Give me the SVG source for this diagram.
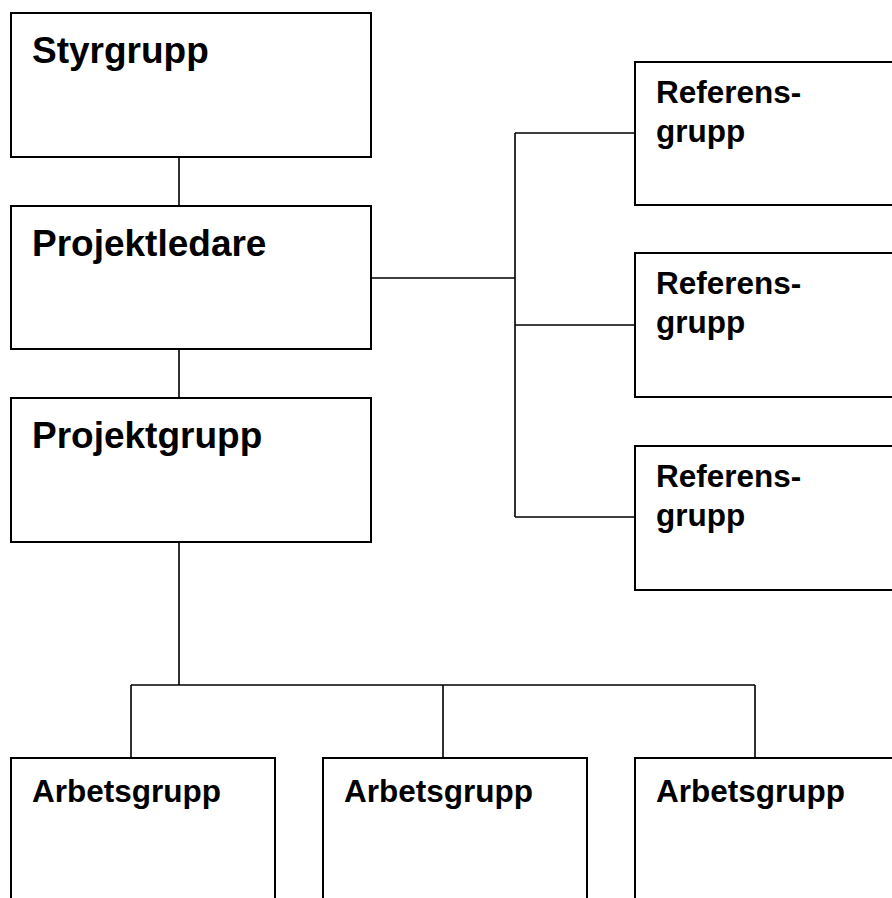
<svg xmlns="http://www.w3.org/2000/svg" width="892" height="898" viewBox="0 0 892 898">
<style>
.box{fill:#fff;stroke:#000;stroke-width:2}
.ln{fill:none;stroke:#000;stroke-width:1.6}
.t{font-family:"Liberation Sans",Arial,sans-serif;font-weight:bold;fill:#000}
.big{font-size:37px}
.sm{font-size:31.5px}
</style>
<rect width="892" height="898" fill="#fff"/>
<g id="connectors">
<path class="ln" d="M179 157V206M179 349V398M371 278H515M515 133V517M515 133H635M515 325H635M515 517H635M179 542V685M131 685H755M131 685V758M443 685V758M755 685V758"/>
</g>
<g id="styrgrupp"><rect class="box" x="11" y="13" width="360" height="144"/><text class="t big" x="32" y="63">Styrgrupp</text></g>
<g id="projektledare"><rect class="box" x="11" y="206" width="360" height="143"/><text class="t big" x="32" y="256">Projektledare</text></g>
<g id="projektgrupp"><rect class="box" x="11" y="398" width="360" height="144"/><text class="t big" x="32" y="448">Projektgrupp</text></g>
<g id="referensgrupp1"><rect class="box" x="635" y="62" width="300" height="143"/><text class="t sm" x="656" y="103">Referens-</text><text class="t sm" x="656" y="142">grupp</text></g>
<g id="referensgrupp2"><rect class="box" x="635" y="253" width="300" height="144"/><text class="t sm" x="656" y="294">Referens-</text><text class="t sm" x="656" y="333">grupp</text></g>
<g id="referensgrupp3"><rect class="box" x="635" y="446" width="300" height="144"/><text class="t sm" x="656" y="487">Referens-</text><text class="t sm" x="656" y="526">grupp</text></g>
<g id="arbetsgrupp1"><rect class="box" x="11" y="758" width="264" height="200"/><text class="t sm" x="32" y="802">Arbetsgrupp</text></g>
<g id="arbetsgrupp2"><rect class="box" x="323" y="758" width="264" height="200"/><text class="t sm" x="344" y="802">Arbetsgrupp</text></g>
<g id="arbetsgrupp3"><rect class="box" x="635" y="758" width="264" height="200"/><text class="t sm" x="656" y="802">Arbetsgrupp</text></g>
</svg>
